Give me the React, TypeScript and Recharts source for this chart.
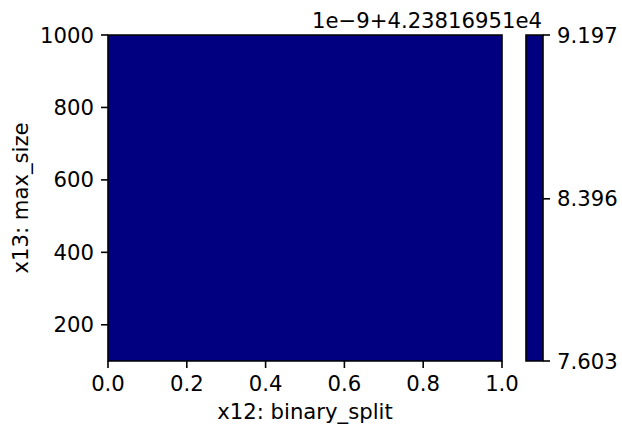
import React from 'react';
import {
  ComposedChart,
  Area,
  XAxis,
  YAxis,
  ReferenceArea
} from 'recharts';

// x12: binary_split spans the whole [0, 1] range, x13: max_size spans [100, 1000]
const splitValues = [0, 1];
const maxSizeRange: [number, number] = [100, 1000];
const xTicks = [0, 0.2, 0.4, 0.6, 0.8, 1.0];
const yTicks = [200, 400, 600, 800, 1000];

// colorbar (values are offset by 4.23816951e4, scaled 1e-9)
const levelRange: [number, number] = [7.603, 9.197];
const cbTicks = [7.603, 8.396, 9.197];
const offsetText = '1e\u22129+4.23816951e4';

const FILL = '#000080';
const FONT = 'DejaVu Sans';
const FS = 21.2;

const mainData = splitValues.map(x => ({ x, band: maxSizeRange }));
const cbData = splitValues.map(x => ({ x, band: levelRange }));

const tickStyle = { fill: '#000', fontSize: FS, fontFamily: FONT };
const tickLineStyle = { stroke: '#000', strokeWidth: 1.6 };

const App: React.FC = () => {
  return (
    <div style={{ position: 'absolute', left: 0, top: 0, width: 622, height: 433, background: '#fff' }}>
      <div style={{ position: 'absolute', left: 0, top: 0 }}>
        <ComposedChart width={622} height={433} data={mainData} margin={{ top: 35, right: 120, bottom: 0, left: 0 }}>
          <XAxis
            dataKey="x"
            type="number"
            domain={[0, 1]}
            ticks={xTicks}
            tickFormatter={(v: number) => v.toFixed(1)}
            tick={tickStyle}
            tickLine={tickLineStyle}
            tickSize={7}
            tickMargin={8}
            axisLine={false}
            height={72}
            allowDataOverflow
          />
          <YAxis
            type="number"
            domain={maxSizeRange}
            ticks={yTicks}
            tick={tickStyle}
            tickLine={tickLineStyle}
            tickSize={7}
            tickMargin={7}
            axisLine={false}
            width={108}
            allowDataOverflow
          />
          <Area
            type="linear"
            dataKey="band"
            fill={FILL}
            fillOpacity={1}
            stroke="none"
            isAnimationActive={false}
          />
          <ReferenceArea x1={0} x2={1} y1={maxSizeRange[0]} y2={maxSizeRange[1]} fill="none" fillOpacity={0} stroke="#000" strokeWidth={1.6} ifOverflow="visible" />
        </ComposedChart>
      </div>
      <div style={{ position: 'absolute', left: 0, top: 0 }}>
        <ComposedChart width={622} height={433} data={cbData} margin={{ top: 35, right: 0, bottom: 72, left: 526 }}>
          <XAxis dataKey="x" type="number" domain={[0, 1]} hide />
          <YAxis
            orientation="right"
            type="number"
            domain={levelRange}
            ticks={cbTicks}
            tickFormatter={(v: number) => v.toFixed(3)}
            tick={tickStyle}
            tickLine={tickLineStyle}
            tickSize={7}
            tickMargin={7}
            axisLine={false}
            width={79}
            allowDataOverflow
          />
          <Area
            type="linear"
            dataKey="band"
            fill={FILL}
            fillOpacity={1}
            stroke="none"
            isAnimationActive={false}
          />
          <ReferenceArea x1={0} x2={1} y1={levelRange[0]} y2={levelRange[1]} fill="none" fillOpacity={0} stroke="#000" strokeWidth={1.6} ifOverflow="visible" />
        </ComposedChart>
      </div>
      <svg width={622} height={433} style={{ position: 'absolute', left: 0, top: 0, pointerEvents: 'none' }}>
        <text x={542} y={28} textAnchor="end" fontFamily={FONT} fontSize={FS} fill="#000">{offsetText}</text>
        <text x={305} y={419} textAnchor="middle" fontFamily={FONT} fontSize={FS} fill="#000">x12: binary_split</text>
        <text x={28} y={198} transform="rotate(-90 28 198)" textAnchor="middle" fontFamily={FONT} fontSize={FS} fill="#000">x13: max_size</text>
      </svg>
    </div>
  );
};

export default App;
